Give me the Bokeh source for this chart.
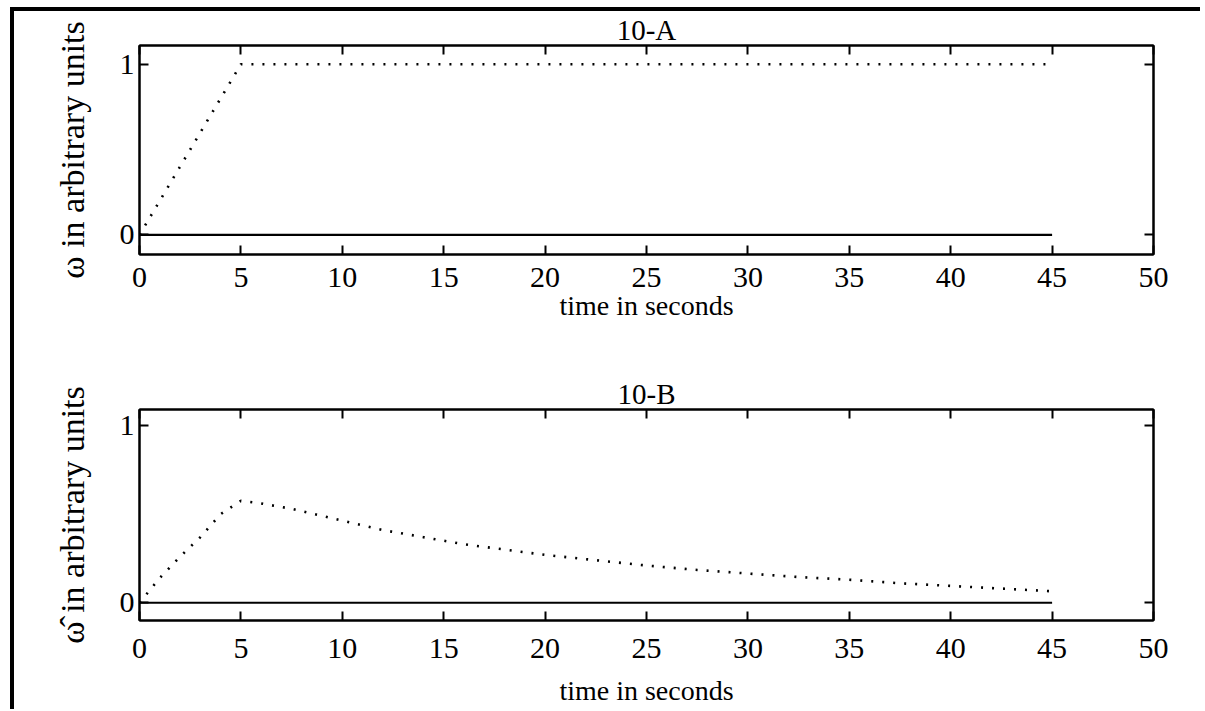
from bokeh.plotting import figure
from bokeh.models import LinearAxis, Range1d, FixedTicker
from bokeh.layouts import column
from bokeh.embed import file_html
from bokeh.resources import INLINE

FONT = "Liberation Serif"

x_ticks = [0, 5, 10, 15, 20, 25, 30, 35, 40, 45, 50]
y_ticks = [0, 1]

base_time = [0, 45]
base_val = [0, 0]

time_a = [0, 5, 45]
omega_a = [0, 1, 1]

time_b = [0, 1, 2, 3, 4, 5, 6, 7.5, 9, 10.5, 12, 14, 16, 18, 20, 22.5, 25,
          27.5, 30, 32.5, 35, 37.5, 40, 42.5, 45]
omega_b = [0, 0.14, 0.26, 0.37, 0.50, 0.575, 0.56, 0.53, 0.49, 0.45, 0.41,
           0.37, 0.33, 0.30, 0.27, 0.24, 0.21, 0.185, 0.165, 0.145, 0.13,
           0.11, 0.095, 0.08, 0.065]


def mirror_axis(ticks):
    return LinearAxis(ticker=FixedTicker(ticks=ticks), major_tick_in=9,
                      major_tick_out=0, minor_tick_line_color=None,
                      major_label_text_color=None,
                      major_label_text_font_size="1px",
                      major_label_standoff=0,
                      axis_line_width=2, major_tick_line_width=2)


def panel(title, ylabel, t, w, y0, y1, height, btop, bbottom,
          tick_standoff, label_standoff):
    p = figure(width=1186, height=height, x_range=Range1d(0, 50),
               y_range=Range1d(y0, y1), output_backend="svg",
               toolbar_location=None, min_border_left=125,
               min_border_right=47, min_border_top=btop,
               min_border_bottom=bbottom, title=title,
               x_axis_label="time in seconds", y_axis_label=ylabel)
    p.title.align = "center"
    p.title.text_font = FONT
    p.title.text_font_size = "29px"
    p.title.text_font_style = "normal"
    p.title.text_color = "black"
    p.title.standoff = 0
    p.title.offset = -8

    p.grid.visible = False
    p.outline_line_color = "black"
    p.outline_line_width = 2
    p.outline_line_alpha = 1
    p.background_fill_color = "white"
    p.border_fill_color = "white"

    p.xaxis.ticker = FixedTicker(ticks=x_ticks)
    p.yaxis.ticker = FixedTicker(ticks=y_ticks)
    for ax in (p.xaxis[0], p.yaxis[0]):
        ax.major_tick_in = 9
        ax.major_tick_out = 0
        ax.minor_tick_line_color = None
        ax.axis_line_width = 2
        ax.major_tick_line_width = 2
        ax.major_label_text_font = FONT
        ax.major_label_text_font_size = "30px"
        ax.major_label_text_color = "black"
        ax.axis_label_text_font = FONT
        ax.axis_label_text_font_style = "normal"
        ax.axis_label_text_color = "black"
    p.xaxis.major_label_standoff = tick_standoff
    p.xaxis.axis_label_text_font_size = "28px"
    p.xaxis.axis_label_standoff = label_standoff
    p.yaxis.major_label_standoff = 5
    p.yaxis.axis_label_text_font_size = "34px"
    p.yaxis.axis_label_standoff = 26

    p.add_layout(mirror_axis(x_ticks), "above")
    p.add_layout(mirror_axis(y_ticks), "right")

    p.line(base_time, base_val, line_color="black", line_width=2.2)
    p.line(t, w, line_color="black", line_width=2.6, line_dash="2 9")
    return p


p1 = panel("10-A", "ω in arbitrary units", time_a, omega_a,
           -0.115, 1.11, 330, 31, 87, 13, 0)
p2 = panel("10-B", "ω\u0302 in arbitrary units", time_b, omega_b,
           -0.10, 1.09, 368, 68, 89, 18, 14)

layout = column(p1, p2, spacing=0,
                styles={"border-top": "4px solid black",
                        "border-left": "4px solid black",
                        "margin-left": "10px",
                        "margin-top": "7px"})

open("out.html", "w").write(file_html(layout, INLINE))
